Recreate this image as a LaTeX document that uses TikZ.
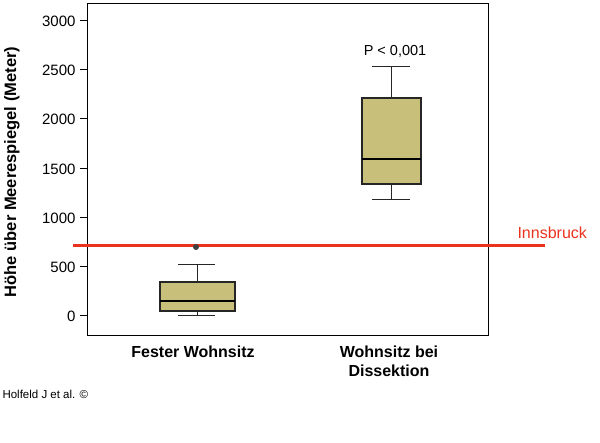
\documentclass[tikz,border=0pt]{standalone}
\usepackage{fontspec}
\setmainfont{Liberation Sans}
\begin{document}
\begin{tikzpicture}[x=1pt,y=-1pt,
 boxf/.style={fill={rgb,255:red,200;green,192;blue,122},draw=black!85,line width=2pt},
 wh/.style={draw=black!85,line width=1pt},
 tick/.style={font=\fontsize{15}{17}\selectfont,anchor=east},
 cat/.style={font=\bfseries\fontsize{16}{19}\selectfont,align=center,anchor=north}]
\useasboundingbox (0,0) rectangle (600,443);
\draw[line width=1pt] (87,4) rectangle (488,336);
\foreach \v/\yy in {0/316,500/267,1000/218,1500/169,2000/119,2500/70,3000/21}{
 \draw[line width=1pt] (80,\yy) -- (87,\yy);
 \node[tick] at (79,\yy) {\v};}
\node[rotate=90,font=\bfseries\fontsize{16.5}{19}\selectfont] (yl) at (12,172) {Höhe über Meerespiegel (Meter)};
% box 1
\draw[wh] (197,316) -- (197,311) (197,282) -- (197,265) (178,316) -- (215,316) (178,265) -- (215,265);
\draw[boxf] (160,282) rectangle (235,311);
\draw[line width=2pt] (160,301) -- (235,301);
% box 2
\draw[wh] (391,200) -- (391,184) (391,98) -- (391,67) (372,200) -- (410,200) (372,67) -- (410,67);
\draw[boxf] (362,98) rectangle (421,184);
\draw[line width=2pt] (362,159) -- (421,159);
\node[font=\fontsize{14.5}{17}\selectfont] (p) at (395,51) {P < 0,001};
% Innsbruck line
\draw[line width=3pt,color={rgb,255:red,235;green,50;blue,30}] (73,246) -- (545,246);
\fill[black!75] (196,247) circle (3pt);
\node[anchor=west,font=\fontsize{16}{19}\selectfont,text={rgb,255:red,235;green,50;blue,30}] (inn) at (514,233) {Innsbruck};
\node[cat] (c1) at (193,342) {Fester Wohnsitz};
\node[cat] (c2) at (389,342) {Wohnsitz bei\\Dissektion};
\node[anchor=west,font=\fontsize{11.5}{13}\selectfont] (cr) at (-1,394) {Holfeld J et al. ©};
\end{tikzpicture}
\end{document}
